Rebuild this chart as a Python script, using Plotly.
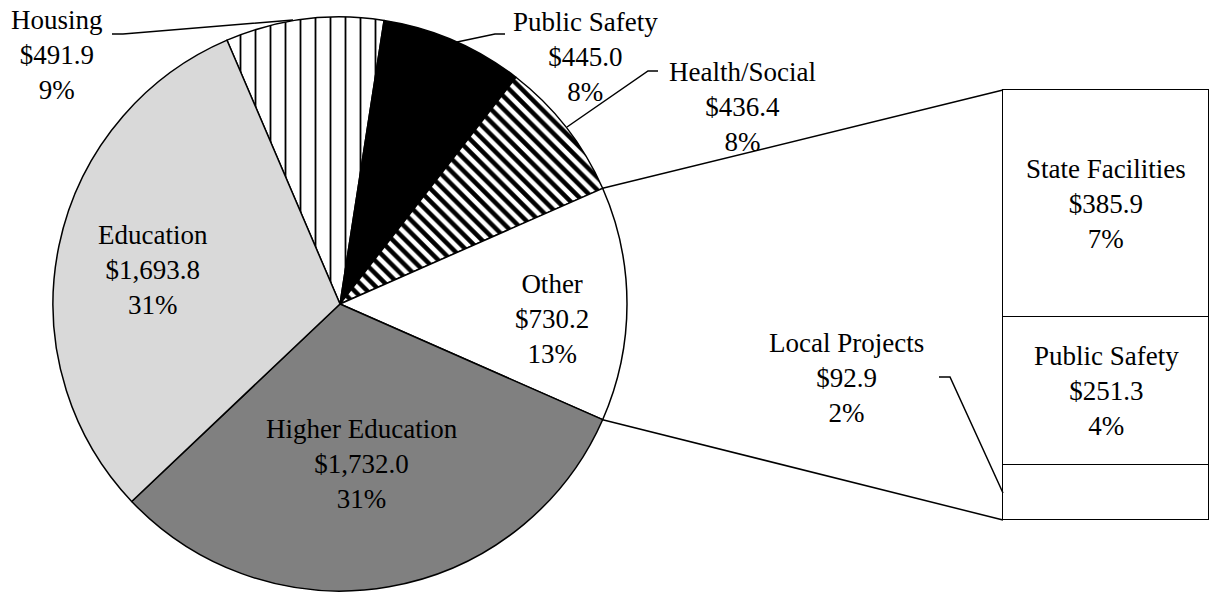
import math
import plotly.graph_objects as go

W, H = 1219, 592
OFF = 8  # page body margin of the html output

# pie data (clockwise from Housing)
pie_labels = ["Housing", "Public Safety", "Health/Social", "Other", "Higher Education", "Education"]
pie_values = [491.9, 445.0, 436.4, 730.2, 1732.0, 1693.8]
pie_pcts = ["9%", "8%", "8%", "13%", "31%", "31%"]

# breakdown of "Other" (bottom to top)
bar_labels = ["Local Projects", "Public Safety", "State Facilities"]
bar_values = [92.9, 251.3, 385.9]
bar_pcts = ["2%", "4%", "7%"]


def px(v):
    return v - OFF


def paper(x, y):
    return px(x) / W, 1 - px(y) / H


FONT = dict(family="Liberation Serif", size=27, color="black")

# pie placement in screen pixels
cx, cy, r = 340, 304, 287
total = sum(pie_values)
i_other = pie_labels.index("Other")
before = sum(pie_values[:i_other])
# rotate so that "Other" is centred at 3 o'clock
rotation = 90 - (before + pie_values[i_other] / 2) / total * 360

fig = go.Figure()

fig.add_trace(go.Pie(
    labels=pie_labels,
    values=pie_values,
    sort=False,
    direction="clockwise",
    rotation=rotation,
    textinfo="none",
    hoverinfo="skip",
    showlegend=False,
    domain=dict(x=[px(cx - r) / W, px(cx + r) / W], y=[1 - px(cy + r) / H, 1 - px(cy - r) / H]),
    marker=dict(
        colors=["white", "black", "white", "white", "#808080", "#d9d9d9"],
        line=dict(color="black", width=1.5),
        pattern=dict(
            shape=["|", "", "\\", "", "", ""],
            fgcolor="black",
            bgcolor="white",
            size=[15, 8, 9, 8, 8, 8],
            solidity=[0.12, 0.3, 0.5, 0.3, 0.3, 0.3],
        ),
    ),
))

for lab, val in zip(bar_labels, bar_values):
    fig.add_trace(go.Bar(
        x=[0], y=[val], name=lab, width=1, cliponaxis=False,
        marker=dict(color="white", line=dict(color="black", width=1.5)),
        hoverinfo="skip", showlegend=False,
    ))

# the right-most strip of the window is not shown, keep the box inside it
bar_left, bar_right, bar_top, bar_bottom = 1003, 1209, 90, 520
bar_total = sum(bar_values)
pad = 3  # px of room around the bar so its outline is not clipped
xpad = pad / (bar_right - bar_left)
ypad = pad / (bar_bottom - bar_top) * bar_total

annotations = []
pie_label_pos = {
    "Housing": (57, 55),
    "Public Safety": (585, 57),
    "Health/Social": (743, 107),
    "Other": (552, 319),
    "Higher Education": (362, 464),
    "Education": (153, 270),
}
for lab, val, pct in zip(pie_labels, pie_values, pie_pcts):
    x, y = paper(*pie_label_pos[lab])
    annotations.append(dict(
        x=x, y=y, xref="paper", yref="paper", showarrow=False,
        xanchor="center", yanchor="middle", align="center",
        text=f"{lab}<br>${val:,.1f}<br>{pct}", font=FONT,
    ))

cum = 0
for lab, val, pct in zip(bar_labels, bar_values, bar_pcts):
    text = f"{lab}<br>${val:,.1f}<br>{pct}"
    if lab == "Local Projects":
        x, y = paper(846, 378)
        annotations.append(dict(
            x=x, y=y, xref="paper", yref="paper", showarrow=False,
            xanchor="center", yanchor="middle", align="center", text=text, font=FONT,
        ))
    else:
        annotations.append(dict(
            x=0, y=cum + val / 2, xref="x", yref="y", showarrow=False,
            xanchor="center", yanchor="middle", align="center", text=text, font=FONT,
        ))
    cum += val

shapes = []


def seg(points):
    path = "M " + " L ".join(f"{px(x) / W},{1 - px(y) / H}" for x, y in points)
    shapes.append(dict(type="path", path=path, xref="paper", yref="paper",
                       line=dict(color="black", width=1.5)))


# connector lines from the "Other" slice edges to the bar corners
a0 = math.radians(rotation + before / total * 360)
a1 = math.radians(rotation + (before + pie_values[i_other]) / total * 360)
seg([(cx + r * math.sin(a0), cy - r * math.cos(a0)), (bar_left, bar_top)])
seg([(cx + r * math.sin(a1), cy - r * math.cos(a1)), (bar_left, bar_bottom)])

# leader lines for outside labels
seg([(112, 34), (123, 34), (293, 20)])
seg([(457, 42), (495, 34), (505, 34)])
seg([(567, 127), (648, 71), (658, 71)])
seg([(939, 377), (950, 377), (1003, 493)])

fig.update_layout(
    width=W, height=H,
    margin=dict(l=0, r=0, t=0, b=0),
    paper_bgcolor="white", plot_bgcolor="white",
    barmode="stack", bargap=0,
    xaxis=dict(domain=[px(bar_left - pad) / W, px(bar_right + pad) / W],
               range=[-0.5 - xpad, 0.5 + xpad], visible=False, fixedrange=True),
    yaxis=dict(domain=[1 - px(bar_bottom + pad) / H, 1 - px(bar_top - pad) / H],
               range=[-ypad, bar_total + ypad], visible=False, fixedrange=True),
    annotations=annotations,
    shapes=shapes,
    font=FONT,
)

fig.write_html("out.html")
